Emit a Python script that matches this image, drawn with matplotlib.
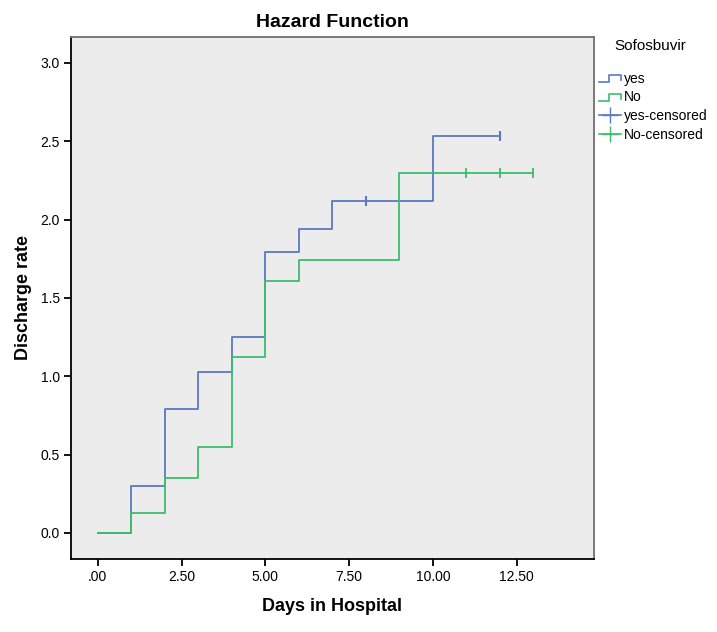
import matplotlib
matplotlib.use("Agg")
import matplotlib.pyplot as plt
from matplotlib.legend_handler import HandlerBase
from matplotlib.lines import Line2D

plt.rcParams['font.family'] = ['Liberation Sans', 'DejaVu Sans']

# step data (value holds from each day until the next)
yes_days = [0, 1, 2, 3, 4, 5, 6, 7, 10, 12]
yes_rate = [0.0, 0.30, 0.79, 1.03, 1.25, 1.79, 1.94, 2.12, 2.53, 2.53]
no_days = [0, 1, 2, 3, 4, 5, 6, 9, 13]
no_rate = [0.0, 0.13, 0.35, 0.55, 1.12, 1.61, 1.74, 2.30, 2.30]

yes_cens_days = [8, 12]
yes_cens_rate = [2.12, 2.53]
no_cens_days = [11, 12, 13]
no_cens_rate = [2.30, 2.30, 2.30]

x_ticks = [0, 2.5, 5, 7.5, 10, 12.5]
x_labels = [".00", "2.50", "5.00", "7.50", "10.00", "12.50"]
y_ticks = [0, 0.5, 1.0, 1.5, 2.0, 2.5, 3.0]

BLUE = "#5a78c4"
GREEN = "#3dbd6c"


class StepHandler(HandlerBase):
    """Legend key drawn as a small step, like the SPSS output."""
    def create_artists(self, legend, orig, xd, yd, w, h, fontsize, trans):
        xs = [xd, xd + w * 0.45, xd + w * 0.45, xd + w, xd + w]
        ys = [yd + h * 0.1, yd + h * 0.1, yd + h * 0.8, yd + h * 0.8, yd + h * 0.3]
        ln = Line2D(xs, ys, color=orig.get_color(), lw=1.2, transform=trans)
        return [ln]


fig = plt.figure(figsize=(7.17, 6.32), dpi=100)
ax = fig.add_axes([0.099, 0.1155, 0.729, 0.826])
ax.set_facecolor("#ececec")

yes_line, = ax.step(yes_days, yes_rate, where="post", color=BLUE, lw=1.3)
no_line, = ax.step(no_days, no_rate, where="post", color=GREEN, lw=1.3)
yes_c, = ax.plot(yes_cens_days, yes_cens_rate, ls="none", marker="|",
                 ms=7, mew=1.5, color=BLUE)
no_c, = ax.plot(no_cens_days, no_cens_rate, ls="none", marker="|",
                ms=7, mew=1.3, color=GREEN)

ax.set_xlim(-0.8, 14.8)
ax.set_ylim(-0.166, 3.165)
ax.set_xticks(x_ticks)
ax.set_xticklabels(x_labels)
ax.set_yticks(y_ticks)
ax.set_yticklabels([f"{v:.1f}" for v in y_ticks])
ax.tick_params(labelsize=10, length=5, width=1.3, colors="black", pad=3)
for s in ["left", "bottom"]:
    ax.spines[s].set_linewidth(1.3)
for s in ["top", "right"]:
    ax.spines[s].set_color("#707070")
    ax.spines[s].set_linewidth(1.3)

ax.set_title("Hazard Function", fontsize=14, fontweight="bold", pad=7)
ax.set_xlabel("Days in Hospital", fontsize=13, fontweight="bold", labelpad=10)
ax.set_ylabel("Discharge rate", fontsize=13, fontweight="bold", labelpad=6)

fig.text(0.907, 0.928, "Sofosbuvir", fontsize=11, ha="center", va="center")

yes_key = Line2D([0, 1], [0, 0], color=BLUE, lw=1.2, marker="+", ms=11)
no_key = Line2D([0, 1], [0, 0], color=GREEN, lw=1.2, marker="+", ms=11)
fig.legend([yes_line, no_line, yes_key, no_key],
           ["yes", "No", "yes-censored", "No-censored"],
           loc="upper left", bbox_to_anchor=(0.818, 0.906), frameon=False,
           fontsize=10, handlelength=1.6, handletextpad=0.2,
           labelspacing=0.33,
           handler_map={yes_line: StepHandler(), no_line: StepHandler()})

fig.savefig("out.png", dpi=100, facecolor="white")
plt.close(fig)
